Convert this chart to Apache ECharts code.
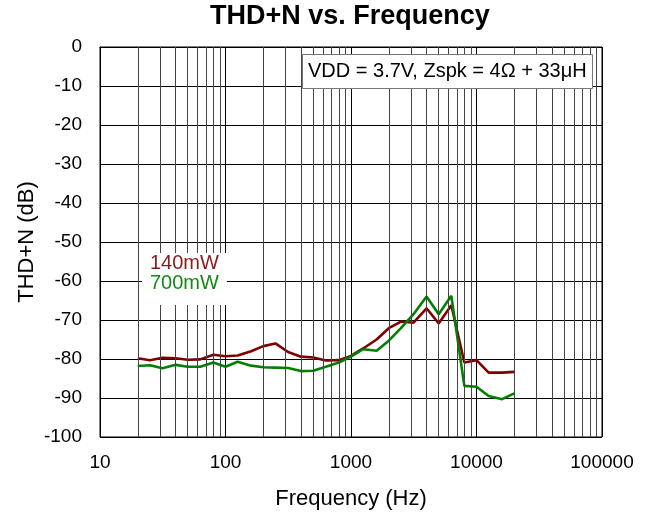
<!DOCTYPE html>
<html>
<head>
<meta charset="utf-8">
<script src="https://cdn.jsdelivr.net/npm/echarts@6/dist/echarts.min.js"></script>
<style>
  html, body { margin: 0; padding: 0; background: #fff; }
  #chart { width: 654px; height: 516px; }
</style>
</head>
<body>
<div id="chart"></div>
<script>
// Test frequencies (Hz), one-third-octave steps
const freqs = [20, 25, 31.5, 40, 50, 63, 80, 100, 125, 160, 200, 250, 315, 400, 500, 630, 800,
  1000, 1250, 1600, 2000, 2500, 3150, 4000, 5000, 6300, 8000, 10000, 12500, 16000, 20000];

// THD+N (dB) at 140 mW output
const thd140mW = [-79.8, -80.3, -79.7, -79.8, -80.2, -80.1, -78.9, -79.3, -79.1, -78.0, -76.7, -76.0,
  -78.2, -79.4, -79.6, -80.4, -80.3, -79.2, -77.3, -75.0, -72.1, -70.4, -70.7, -67.0, -70.9, -66.2,
  -80.9, -80.3, -83.5, -83.5, -83.3];

// THD+N (dB) at 700 mW output
const thd700mW = [-81.8, -81.6, -82.4, -81.5, -82.0, -82.0, -80.9, -82.0, -80.7, -81.7, -82.1, -82.2,
  -82.3, -83.1, -83.0, -82.0, -80.9, -79.4, -77.5, -77.9, -75.3, -72.1, -68.5, -64.0, -68.5, -63.8,
  -86.9, -87.1, -89.5, -90.3, -88.8];

// Decade tick labels on the frequency axis
const xTickLabels = ['10', '100', '1000', '10000', '100000'];
// Level axis range and step
const yMin = -100, yMax = 0, yStep = 10;

const seriesNames = ['140mW', '700mW'];
const seriesColors = ['#800000', '#008000'];
const labelColors = ['#8b1a1a', '#138a13'];

const FONT = "'Liberation Sans', Arial, sans-serif";

// Minor (2..9 x decade) vertical grid lines for the log axis
const minorFreqs = [];
for (let d = 1; d <= 4; d++) {
  for (let k = 2; k <= 9; k++) minorFreqs.push(k * Math.pow(10, d));
}

const chart = echarts.init(document.getElementById('chart'), null, { renderer: 'canvas' });

const option = {
  animation: false,
  backgroundColor: '#fff',
  textStyle: { fontFamily: FONT },
  title: [
    {
      text: 'THD+N vs. Frequency',
      left: 210, top: 3, padding: 0,
      textStyle: { fontFamily: FONT, fontSize: 27, fontWeight: 'bold', color: '#000' }
    },
    {
      text: 'VDD = 3.7V, Zspk = 4\u03A9 + 33\u03BCH',
      left: 302, top: 54,
      padding: [6, 6, 7, 6],
      backgroundColor: '#fff',
      borderColor: '#777', borderWidth: 1,
      textStyle: { fontFamily: FONT, fontSize: 20, fontWeight: 'normal', color: '#000', lineHeight: 22 }
    }
  ],
  legend: {
    orient: 'vertical',
    left: 142, top: 253,
    padding: [0, 8, 12, 3],
    itemGap: 0,
    itemWidth: 0, itemHeight: 20,
    icon: 'none',
    backgroundColor: '#fff',
    selectedMode: false,
    z: 10,
    data: seriesNames.map((n, i) => ({
      name: n,
      textStyle: { color: labelColors[i], fontSize: 20, fontFamily: FONT, lineHeight: 20 }
    }))
  },
  grid: {
    left: 100, right: 52, top: 47, bottom: 79,
    show: true, borderColor: '#000', borderWidth: 1
  },
  xAxis: {
    type: 'log', logBase: 10, min: 10, max: 100000,
    name: 'Frequency (Hz)', nameLocation: 'middle', nameGap: 51,
    nameMoveOverlap: false,
    nameTextStyle: { fontFamily: FONT, fontSize: 22, color: '#000' },
    axisLine: { show: true, lineStyle: { color: '#000', width: 1 } },
    axisTick: { show: false },
    axisLabel: {
      fontFamily: FONT, fontSize: 19, color: '#000', margin: 16,
      formatter: v => {
        const idx = Math.round(Math.log10(v)) - 1;
        return xTickLabels[idx] !== undefined ? xTickLabels[idx] : '';
      }
    },
    splitLine: { show: true, lineStyle: { color: '#000', width: 1 } }
  },
  yAxis: {
    type: 'value', min: yMin, max: yMax, interval: yStep,
    name: 'THD+N (dB)', nameLocation: 'middle', nameGap: 62,
    nameMoveOverlap: false,
    nameTextStyle: { fontFamily: FONT, fontSize: 22, color: '#000' },
    axisLine: { show: true, lineStyle: { color: '#000', width: 1 } },
    axisTick: { show: false },
    axisLabel: { fontFamily: FONT, fontSize: 19, color: '#000', margin: 18 },
    splitLine: { show: true, lineStyle: { color: '#000', width: 1 } }
  },
  series: [
    {
      name: 'minor-grid',
      type: 'line',
      data: [],
      silent: true,
      z: 1,
      markLine: {
        silent: true,
        symbol: 'none',
        animation: false,
        label: { show: false },
        lineStyle: { color: '#444', width: 1, type: 'solid' },
        emphasis: { disabled: true },
        data: minorFreqs.map(f => ({ xAxis: f }))
      }
    },
    {
      name: seriesNames[0],
      type: 'line',
      data: freqs.map((f, i) => [f, thd140mW[i]]),
      showSymbol: false,
      lineStyle: { color: seriesColors[0], width: 2.6 },
      itemStyle: { color: seriesColors[0] },
      z: 3
    },
    {
      name: seriesNames[1],
      type: 'line',
      data: freqs.map((f, i) => [f, thd700mW[i]]),
      showSymbol: false,
      lineStyle: { color: seriesColors[1], width: 2.6 },
      itemStyle: { color: seriesColors[1] },
      z: 4
    }
  ]
};

chart.setOption(option);
</script>
</body>
</html>
